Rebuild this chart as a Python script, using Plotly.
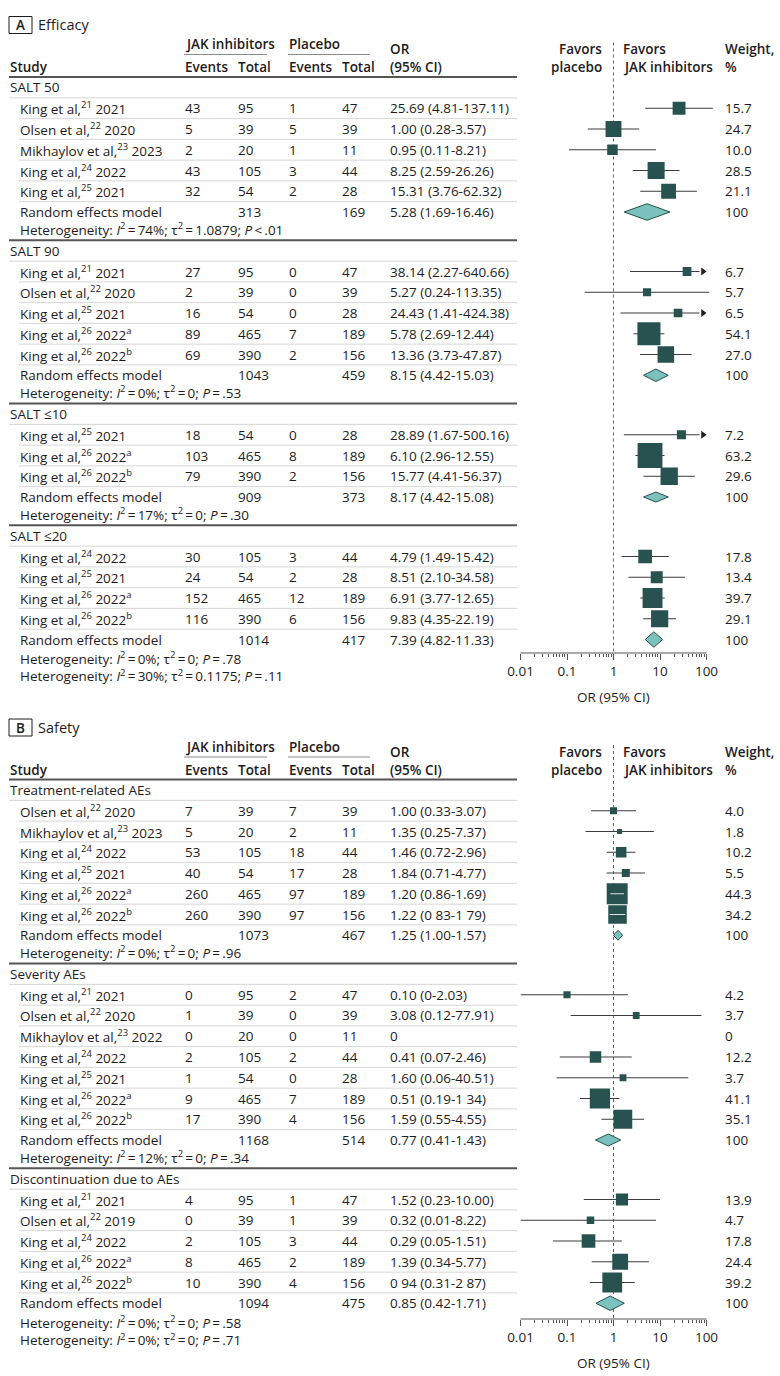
import math
import plotly.graph_objects as go

W, H = 780, 1376

# ============================ DATA ============================
# ---------------- A. Efficacy ----------------
salt50_study = ["King et al,<sup>21</sup> 2021", "Olsen et al,<sup>22</sup> 2020",
                "Mikhaylov et al,<sup>23</sup> 2023", "King et al,<sup>24</sup> 2022",
                "King et al,<sup>25</sup> 2021"]
salt50_jak_events = [43, 5, 2, 43, 32]
salt50_jak_total = [95, 39, 20, 105, 54]
salt50_pbo_events = [1, 5, 1, 3, 2]
salt50_pbo_total = [47, 39, 11, 44, 28]
salt50_or = [25.69, 1.00, 0.95, 8.25, 15.31]
salt50_lo = [4.81, 0.28, 0.11, 2.59, 3.76]
salt50_hi = [137.11, 3.57, 8.21, 26.26, 62.32]
salt50_ci_text = ["25.69 (4.81-137.11)", "1.00 (0.28-3.57)", "0.95 (0.11-8.21)",
                  "8.25 (2.59-26.26)", "15.31 (3.76-62.32)"]
salt50_weight = [15.7, 24.7, 10.0, 28.5, 21.1]
salt50_pooled = [5.28, 1.69, 16.46]
salt50_pooled_total = [313, 169]
salt50_het = [74, "1.0879", "<.01"]

salt90_study = ["King et al,<sup>21</sup> 2021", "Olsen et al,<sup>22</sup> 2020",
                "King et al,<sup>25</sup> 2021", "King et al,<sup>26</sup> 2022<sup>a</sup>",
                "King et al,<sup>26</sup> 2022<sup>b</sup>"]
salt90_jak_events = [27, 2, 16, 89, 69]
salt90_jak_total = [95, 39, 54, 465, 390]
salt90_pbo_events = [0, 0, 0, 7, 2]
salt90_pbo_total = [47, 39, 28, 189, 156]
salt90_or = [38.14, 5.27, 24.43, 5.78, 13.36]
salt90_lo = [2.27, 0.24, 1.41, 2.69, 3.73]
salt90_hi = [640.66, 113.35, 424.38, 12.44, 47.87]
salt90_ci_text = ["38.14 (2.27-640.66)", "5.27 (0.24-113.35)", "24.43 (1.41-424.38)",
                  "5.78 (2.69-12.44)", "13.36 (3.73-47.87)"]
salt90_weight = [6.7, 5.7, 6.5, 54.1, 27.0]
salt90_pooled = [8.15, 4.42, 15.03]
salt90_pooled_total = [1043, 459]
salt90_het = [0, "0", "=.53"]

salt10_study = ["King et al,<sup>25</sup> 2021", "King et al,<sup>26</sup> 2022<sup>a</sup>",
                "King et al,<sup>26</sup> 2022<sup>b</sup>"]
salt10_jak_events = [18, 103, 79]
salt10_jak_total = [54, 465, 390]
salt10_pbo_events = [0, 8, 2]
salt10_pbo_total = [28, 189, 156]
salt10_or = [28.89, 6.10, 15.77]
salt10_lo = [1.67, 2.96, 4.41]
salt10_hi = [500.16, 12.55, 56.37]
salt10_ci_text = ["28.89 (1.67-500.16)", "6.10 (2.96-12.55)", "15.77 (4.41-56.37)"]
salt10_weight = [7.2, 63.2, 29.6]
salt10_pooled = [8.17, 4.42, 15.08]
salt10_pooled_total = [909, 373]
salt10_het = [17, "0", "=.30"]

salt20_study = ["King et al,<sup>24</sup> 2022", "King et al,<sup>25</sup> 2021",
                "King et al,<sup>26</sup> 2022<sup>a</sup>", "King et al,<sup>26</sup> 2022<sup>b</sup>"]
salt20_jak_events = [30, 24, 152, 116]
salt20_jak_total = [105, 54, 465, 390]
salt20_pbo_events = [3, 2, 12, 6]
salt20_pbo_total = [44, 28, 189, 156]
salt20_or = [4.79, 8.51, 6.91, 9.83]
salt20_lo = [1.49, 2.10, 3.77, 4.35]
salt20_hi = [15.42, 34.58, 12.65, 22.19]
salt20_ci_text = ["4.79 (1.49-15.42)", "8.51 (2.10-34.58)", "6.91 (3.77-12.65)", "9.83 (4.35-22.19)"]
salt20_weight = [17.8, 13.4, 39.7, 29.1]
salt20_pooled = [7.39, 4.82, 11.33]
salt20_pooled_total = [1014, 417]
salt20_het = [0, "0", "=.78"]

efficacy_overall_het = [30, "0.1175", "=.11"]

# ---------------- B. Safety ----------------
trae_study = ["Olsen et al,<sup>22</sup> 2020", "Mikhaylov et al,<sup>23</sup> 2023",
              "King et al,<sup>24</sup> 2022", "King et al,<sup>25</sup> 2021",
              "King et al,<sup>26</sup> 2022<sup>a</sup>", "King et al,<sup>26</sup> 2022<sup>b</sup>"]
trae_jak_events = [7, 5, 53, 40, 260, 260]
trae_jak_total = [39, 20, 105, 54, 465, 390]
trae_pbo_events = [7, 2, 18, 17, 97, 97]
trae_pbo_total = [39, 11, 44, 28, 189, 156]
trae_or = [1.00, 1.35, 1.46, 1.84, 1.20, 1.22]
trae_lo = [0.33, 0.25, 0.72, 0.71, 0.86, 0.83]
trae_hi = [3.07, 7.37, 2.96, 4.77, 1.69, 1.79]
trae_ci_text = ["1.00 (0.33-3.07)", "1.35 (0.25-7.37)", "1.46 (0.72-2.96)",
                "1.84 (0.71-4.77)", "1.20 (0.86-1.69)", "1.22 (0 83-1 79)"]
trae_weight = [4.0, 1.8, 10.2, 5.5, 44.3, 34.2]
trae_pooled = [1.25, 1.00, 1.57]
trae_pooled_total = [1073, 467]
trae_het = [0, "0", "=.96"]

sev_study = ["King et al,<sup>21</sup> 2021", "Olsen et al,<sup>22</sup> 2020",
             "Mikhaylov et al,<sup>23</sup> 2022", "King et al,<sup>24</sup> 2022",
             "King et al,<sup>25</sup> 2021", "King et al,<sup>26</sup> 2022<sup>a</sup>",
             "King et al,<sup>26</sup> 2022<sup>b</sup>"]
sev_jak_events = [0, 1, 0, 2, 1, 9, 17]
sev_jak_total = [95, 39, 20, 105, 54, 465, 390]
sev_pbo_events = [2, 0, 0, 2, 0, 7, 4]
sev_pbo_total = [47, 39, 11, 44, 28, 189, 156]
sev_or = [0.10, 3.08, None, 0.41, 1.60, 0.51, 1.59]
sev_lo = [0, 0.12, None, 0.07, 0.06, 0.19, 0.55]
sev_hi = [2.03, 77.91, None, 2.46, 40.51, 1.34, 4.55]
sev_ci_text = ["0.10 (0-2.03)", "3.08 (0.12-77.91)", "0", "0.41 (0.07-2.46)",
               "1.60 (0.06-40.51)", "0.51 (0.19-1 34)", "1.59 (0.55-4.55)"]
sev_weight = [4.2, 3.7, 0, 12.2, 3.7, 41.1, 35.1]
sev_pooled = [0.77, 0.41, 1.43]
sev_pooled_total = [1168, 514]
sev_het = [12, "0", "=.34"]

disc_study = ["King et al,<sup>21</sup> 2021", "Olsen et al,<sup>22</sup> 2019",
              "King et al,<sup>24</sup> 2022", "King et al,<sup>26</sup> 2022<sup>a</sup>",
              "King et al,<sup>26</sup> 2022<sup>b</sup>"]
disc_jak_events = [4, 0, 2, 8, 10]
disc_jak_total = [95, 39, 105, 465, 390]
disc_pbo_events = [1, 1, 3, 2, 4]
disc_pbo_total = [47, 39, 44, 189, 156]
disc_or = [1.52, 0.32, 0.29, 1.39, 0.94]
disc_lo = [0.23, 0.01, 0.05, 0.34, 0.31]
disc_hi = [10.00, 8.22, 1.51, 5.77, 2.87]
disc_ci_text = ["1.52 (0.23-10.00)", "0.32 (0.01-8.22)", "0.29 (0.05-1.51)",
                "1.39 (0.34-5.77)", "0 94 (0.31-2 87)"]
disc_weight = [13.9, 4.7, 17.8, 24.4, 39.2]
disc_pooled = [0.85, 0.42, 1.71]
disc_pooled_total = [1094, 475]
disc_het = [0, "0", "=.58"]

safety_overall_het = [0, "0", "=.71"]

axis_tick_vals = [0.01, 0.1, 1, 10, 100]
axis_tick_text = ["0.01", "0.1", "1", "10", "100"]


def group(name, study, je, jn, pe, pn, orv, lo, hi, ci, w, pooled, ptot, het):
    return dict(name=name, study=study, je=je, jn=jn, pe=pe, pn=pn, orv=orv, lo=lo,
                hi=hi, ci=ci, w=w, pooled=pooled, ptot=ptot, het=het)


efficacy = [
    group("SALT 50", salt50_study, salt50_jak_events, salt50_jak_total, salt50_pbo_events,
          salt50_pbo_total, salt50_or, salt50_lo, salt50_hi, salt50_ci_text, salt50_weight,
          salt50_pooled, salt50_pooled_total, salt50_het),
    group("SALT 90", salt90_study, salt90_jak_events, salt90_jak_total, salt90_pbo_events,
          salt90_pbo_total, salt90_or, salt90_lo, salt90_hi, salt90_ci_text, salt90_weight,
          salt90_pooled, salt90_pooled_total, salt90_het),
    group("SALT ≤10", salt10_study, salt10_jak_events, salt10_jak_total, salt10_pbo_events,
          salt10_pbo_total, salt10_or, salt10_lo, salt10_hi, salt10_ci_text, salt10_weight,
          salt10_pooled, salt10_pooled_total, salt10_het),
    group("SALT ≤20", salt20_study, salt20_jak_events, salt20_jak_total, salt20_pbo_events,
          salt20_pbo_total, salt20_or, salt20_lo, salt20_hi, salt20_ci_text, salt20_weight,
          salt20_pooled, salt20_pooled_total, salt20_het),
]
safety = [
    group("Treatment-related AEs", trae_study, trae_jak_events, trae_jak_total, trae_pbo_events,
          trae_pbo_total, trae_or, trae_lo, trae_hi, trae_ci_text, trae_weight,
          trae_pooled, trae_pooled_total, trae_het),
    group("Severity AEs", sev_study, sev_jak_events, sev_jak_total, sev_pbo_events,
          sev_pbo_total, sev_or, sev_lo, sev_hi, sev_ci_text, sev_weight,
          sev_pooled, sev_pooled_total, sev_het),
    group("Discontinuation due to AEs", disc_study, disc_jak_events, disc_jak_total,
          disc_pbo_events, disc_pbo_total, disc_or, disc_lo, disc_hi, disc_ci_text,
          disc_weight, disc_pooled, disc_pooled_total, disc_het),
]

# ============================ STYLE / LAYOUT ============================
FONT = "Open Sans"
FS = 13.5
TXT = "#1e1b1c"
SQ_COL = "#27524f"
DIA_FILL = "#7bc1bd"
DIA_LINE = "#27524f"
CI_COL = "#3c3c3c"
RULE_COL = "#555555"
SEP_COL = "#d6d6d6"
AX_COL = "#555555"

ROW = 20.75
HET_GAP = 17.0
HET_STEP = 16.5
LINE_GAP = 11.25
HEAD_GAP = 10.5

X_HEAD, X_IND = 9, 19
X_JE, X_JN, X_PE, X_PN, X_OR = 184, 237, 288, 341, 389
X_FAV_P, X_FAV_J, X_WT = 603, 622, 724
X_RULE_END = 517

PX_MIN = 520.5      # pixel of OR = 0.01
PX_DECADE = 46.5    # pixels per decade
XMIN, XMAX, XLIM = 0.01, 100.0, 150.0
PX_MAX = PX_MIN + PX_DECADE * (math.log10(XMAX) - math.log10(XMIN))
PX_LIM = PX_MIN + PX_DECADE * (math.log10(XLIM) - math.log10(XMIN))

efficacy_diamond_h = [16.5, 12.5, 10, 15.5]
safety_diamond_h = [10, 12, 14.5]

annotations, shapes, traces = [], [], []


def txt(x, y, s, anchor="left", bold=False, size=FS):
    annotations.append(dict(
        x=x / W, y=1 - y / H, xref="paper", yref="paper",
        text=s, showarrow=False, align=anchor if anchor != "center" else "center",
        xanchor=anchor, yanchor="middle", borderpad=0,
        font=dict(family=FONT, size=size, color=TXT, weight=600 if bold else 400)))


def hline(x0, x1, y, color, width):
    shapes.append(dict(type="line", xref="paper", yref="paper", x0=x0 / W, x1=x1 / W,
                       y0=1 - y / H, y1=1 - y / H, line=dict(color=color, width=width),
                       layer="above"))


def het_text(h):
    i2, tau2, p = h
    op, val = p[0], p[1:]
    op = "&lt;" if op == "<" else op
    return (f"Heterogeneity: <i>I</i><sup>2</sup>\u2009=\u2009{i2}%; "
            f"τ<sup>2</sup>\u2009=\u2009{tau2}; <i>P</i>\u2009{op}\u2009{val}")


def fmt_w(w):
    return "0" if w == 0 else f"{w:.1f}"


def build_section(k, letter, title, groups, overall_het, first_y, axis_y, dia_h):
    xa = "x" if k == 0 else f"x{k + 1}"
    ya = "y" if k == 0 else f"y{k + 1}"
    top_y = first_y - 60

    # ---- header block ----
    shapes.append(dict(type="rect", xref="paper", yref="paper", x0=9 / W, x1=32 / W,
                       y0=1 - (first_y - 54) / H, y1=1 - (first_y - 71) / H,
                       line=dict(color=TXT, width=1)))
    txt(20.5, first_y - 62.5, letter, "center", bold=True)
    txt(37, first_y - 63, title, size=14.5)
    txt(X_JE, first_y - 43, "JAK inhibitors", bold=True)
    txt(X_PE, first_y - 43, "Placebo", bold=True)
    hline(X_JE, 267, first_y - 33, "#8a8a8a", 1)
    hline(X_PE, 370, first_y - 33, "#8a8a8a", 1)
    for x, a, l1, l2 in [(X_OR, "left", "OR", "(95% CI)"),
                         (X_FAV_P, "right", "Favors", "placebo"),
                         (X_FAV_J, "left", "Favors", "JAK inhibitors"),
                         (X_WT, "left", "Weight,", "%")]:
        txt(x, first_y - 38.5, l1, a, bold=True)
        txt(x, first_y - 20.5, l2, a, bold=True)
    for x, s in [(X_HEAD, "Study"), (X_JE, "Events"), (X_JN, "Total"),
                 (X_PE, "Events"), (X_PN, "Total")]:
        txt(x, first_y - 20.5, s, bold=True)
    hline(X_HEAD, X_RULE_END, first_y - 10.5, RULE_COL, 2)

    ci_x, ci_y = [], []
    sq_x, sq_y, sq_s = [], [], []
    wl_x, wl_y = [], []
    ar_x, ar_y = [], []

    y = first_y
    for gi, g in enumerate(groups):
        if gi > 0:
            hline(X_HEAD, X_RULE_END, y - HEAD_GAP, RULE_COL, 2)
        txt(X_HEAD, y, g["name"])
        prev = y
        n = len(g["study"])
        for i in range(n):
            y += ROW
            hline(X_HEAD if i == 0 else X_IND, X_RULE_END, (prev + y) / 2, SEP_COL, 1)
            prev = y
            txt(X_IND, y, g["study"][i])
            txt(X_JE, y, str(g["je"][i]))
            txt(X_JN, y, str(g["jn"][i]))
            txt(X_PE, y, str(g["pe"][i]))
            txt(X_PN, y, str(g["pn"][i]))
            txt(X_OR, y, g["ci"][i])
            txt(X_WT, y, fmt_w(g["w"][i]))
            orv, lo, hi, w = g["orv"][i], g["lo"][i], g["hi"][i], g["w"][i]
            if orv is None or orv <= 0:
                continue
            x_lo = lo if (lo is not None and lo > XMIN) else XMIN
            if hi > XLIM:
                # truncated: arrow at the axis end
                tip_half = 3.5
                x_hi = 10 ** (math.log10(XMAX) - 2 * tip_half / PX_DECADE)
                ar_x.append(10 ** (math.log10(XMAX) - tip_half / PX_DECADE))
                ar_y.append(y)
            else:
                x_hi = hi
            ci_x += [x_lo, x_hi, None]
            ci_y += [y, y, None]
            size = 3.0 * math.sqrt(w) + 1
            sq_x.append(orv)
            sq_y.append(y)
            sq_s.append(size)
            half_dec = (size / 2) / PX_DECADE
            if (math.log10(orv) - math.log10(x_lo) < half_dec and
                    math.log10(x_hi) - math.log10(orv) < half_dec):
                wl_x += [x_lo, x_hi, None]
                wl_y += [y, y, None]
        # pooled row
        y += ROW
        hline(X_IND, X_RULE_END, (prev + y) / 2, SEP_COL, 1)
        txt(X_IND, y, "Random effects model")
        txt(X_JN, y, str(g["ptot"][0]))
        txt(X_PN, y, str(g["ptot"][1]))
        po, pl, ph = g["pooled"]
        txt(X_OR, y, f"{po:.2f} ({pl:.2f}-{ph:.2f})")
        txt(X_WT, y, "100")
        hh = dia_h[gi] / 2
        traces.append(go.Scatter(
            x=[pl, po, ph, po, pl], y=[y, y - hh, y, y + hh, y], xaxis=xa, yaxis=ya,
            mode="lines", fill="toself", fillcolor=DIA_FILL,
            line=dict(color=DIA_LINE, width=1), hoverinfo="skip"))
        y += HET_GAP
        if gi == len(groups) - 1:
            # subgroup + overall heterogeneity as one two-line, left-aligned block
            txt(X_IND, y + HET_STEP / 2 + 1.5,
                het_text(g["het"]) + "<br>" + het_text(overall_het))
            y += HET_STEP
        else:
            txt(X_IND, y, het_text(g["het"]))
        y += LINE_GAP + HEAD_GAP

    # reference line at OR = 1
    traces.insert(0, go.Scatter(x=[1, 1], y=[first_y - 45, axis_y], xaxis=xa, yaxis=ya,
                                mode="lines", line=dict(color="#666666", width=1, dash="dot"),
                                hoverinfo="skip"))
    traces.append(go.Scatter(x=ci_x, y=ci_y, xaxis=xa, yaxis=ya, mode="lines",
                             line=dict(color=CI_COL, width=1), hoverinfo="skip"))
    traces.append(go.Scatter(x=sq_x, y=sq_y, xaxis=xa, yaxis=ya, mode="markers",
                             marker=dict(symbol="square", size=sq_s, color=SQ_COL,
                                         opacity=1, line=dict(width=0)),
                             hoverinfo="skip"))
    if wl_x:
        traces.append(go.Scatter(x=wl_x, y=wl_y, xaxis=xa, yaxis=ya, mode="lines",
                                 line=dict(color="rgba(255,255,255,0.85)", width=1),
                                 hoverinfo="skip"))
    if ar_x:
        traces.append(go.Scatter(x=ar_x, y=ar_y, xaxis=xa, yaxis=ya, mode="markers",
                                 cliponaxis=False,
                                 marker=dict(symbol="triangle-right", size=7, color="#1e1e1e",
                                             opacity=1),
                                 hoverinfo="skip"))

    # axis baseline and title
    hline(PX_MIN, PX_MAX, axis_y, AX_COL, 1)
    txt(PX_MIN + PX_DECADE * 2, axis_y + 44, "OR (95% CI)", "center")

    minor_vals = [m * 10 ** d for d in range(-2, 2) for m in range(2, 10)]
    axis = dict(
        type="log", range=[math.log10(XMIN), math.log10(XLIM)],
        domain=[PX_MIN / W, PX_LIM / W], anchor=ya,
        showline=False, showgrid=False, zeroline=False, automargin=False,
        ticks="outside", ticklen=6, tickwidth=1, tickcolor=AX_COL,
        tickvals=axis_tick_vals, ticktext=axis_tick_text,
        tickfont=dict(family=FONT, size=FS, color=TXT),
        minor=dict(tickmode="array", tickvals=minor_vals, ticks="outside", ticklen=3,
                   tickwidth=1, tickcolor=AX_COL, showgrid=False),
        fixedrange=True)
    yaxis = dict(range=[axis_y, top_y], domain=[1 - axis_y / H, 1 - top_y / H],
                 anchor=xa, visible=False, fixedrange=True, automargin=False)
    return axis, yaxis


ax1, ay1 = build_section(0, "A", "Efficacy", efficacy, efficacy_overall_het,
                         87.5, 653, efficacy_diamond_h)
ax2, ay2 = build_section(1, "B", "Safety", safety, safety_overall_het,
                         790, 1319, safety_diamond_h)

fig = go.Figure(data=traces)
fig.update_layout(
    width=W, height=H, autosize=False,
    margin=dict(l=0, r=0, t=0, b=0, pad=0, autoexpand=False),
    paper_bgcolor="white", plot_bgcolor="rgba(0,0,0,0)",
    showlegend=False,
    xaxis=ax1, yaxis=ay1, xaxis2=ax2, yaxis2=ay2,
    annotations=annotations, shapes=shapes,
    font=dict(family=FONT, size=FS, color=TXT),
)
fig.write_html(
    "out.html",
    config={"displayModeBar": False, "responsive": False},
    post_script=("document.documentElement.style.overflow='hidden';"
                 "document.body.style.margin='0';"
                 "document.body.style.padding='0';"
                 "document.body.style.overflow='hidden';"),
)
